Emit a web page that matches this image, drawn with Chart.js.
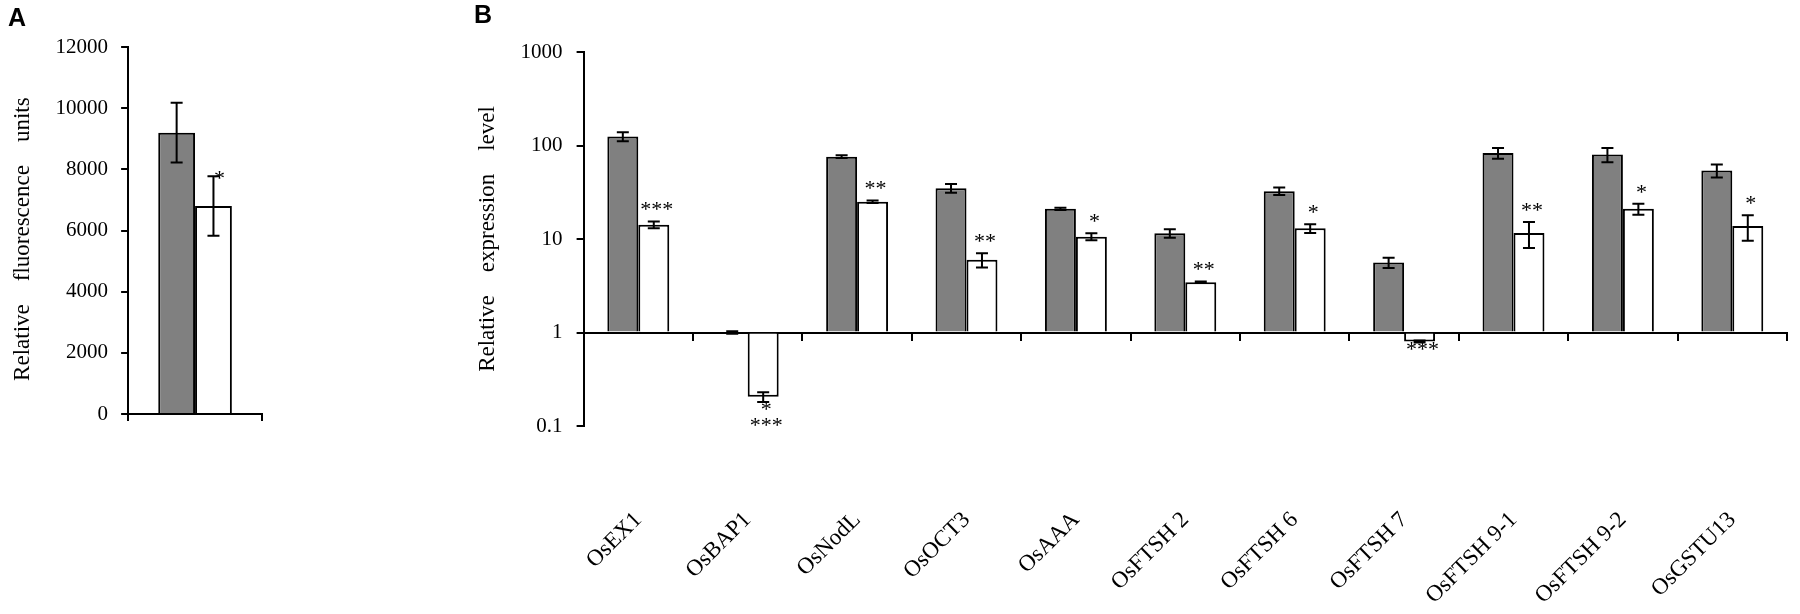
<!DOCTYPE html>
<html><head><meta charset="utf-8">
<script src="https://cdn.jsdelivr.net/npm/chart.js@4.4.1/dist/chart.umd.min.js"></script>
<style>
html,body{margin:0;padding:0;background:#fff;}
#wrap{position:relative;width:1800px;height:614px;overflow:hidden;background:#fff;}
canvas{position:absolute;top:0;}
#cA{left:0;}
#cB{left:440px;}
.panel{position:absolute;font-family:"Liberation Sans",Arial,sans-serif;font-weight:bold;font-size:25px;line-height:29px;color:#000;}
</style></head><body>
<div id="wrap">
<canvas id="cA" width="290" height="614"></canvas>
<canvas id="cB" width="1360" height="614"></canvas>
<div class="panel" style="left:8px;top:3px;">A</div>
<div class="panel" style="left:474px;top:0px;">B</div>
</div>
<script>
// ---------- Panel A data ----------
const categoriesA = [''];
const grayA = [9200];
const grayAErr = [980];
const whiteA = [6800];
const whiteAErr = [970];
const starsA = ['*'];
const titleA = 'Relative    fluorescence    units   ';

// ---------- Panel B data ----------
const categoriesB = ['OsEX1','OsBAP1','OsNodL','OsOCT3','OsAAA','OsFTSH 2','OsFTSH 6','OsFTSH 7','OsFTSH 9-1','OsFTSH 9-2','OsGSTU13'];
const grayB = [125, 1, 76, 35, 21, 11.5, 32.5, 5.6, 83, 80, 54];
const grayBErr = [14, 0.03, 2.5, 3.7, 0.6, 1.2, 3, 0.7, 11, 14, 8.6];
const whiteB = [14.2, 0.205, 25, 6.0, 10.6, 3.45, 13, 0.8, 11.6, 21, 13.8];
const whiteBErr = [1.2, 0.024, 0.8, 1.05, 0.9, 0.06, 1.4, 0.02, 3.6, 2.8, 4.2];
const starsB = ['***', '*\n***', '**', '**', '*', '**', '*', '***', '**', '*', '*'];
const tickValuesB = [0.1, 1, 10, 100, 1000];
const titleB = 'Relative    expression    level';

const SERIF = '"Liberation Serif", "Times New Roman", serif';

const errStarPlugin = {
  id: 'errStars',
  afterDatasetsDraw(chart, args, opts) {
    const ctx = chart.ctx;
    const ys = chart.scales.y;
    ctx.save();
    chart.data.datasets.forEach((ds, i) => {
      const meta = chart.getDatasetMeta(i);
      meta.data.forEach((el, j) => {
        const v = ds.data[j], e = ds.errors[j];
        const yTop = ys.getPixelForValue(v + e);
        const yBot = ys.getPixelForValue(v - e);
        const cap = opts.cap;
        ctx.strokeStyle = '#000';
        ctx.lineWidth = 2;
        ctx.beginPath();
        ctx.moveTo(el.x, yTop); ctx.lineTo(el.x, yBot);
        ctx.moveTo(el.x - cap, yTop); ctx.lineTo(el.x + cap, yTop);
        ctx.moveTo(el.x - cap, yBot); ctx.lineTo(el.x + cap, yBot);
        ctx.stroke();
        if (ds.stars && ds.stars[j]) {
          const lines = ds.stars[j].split('\n');
          ctx.fillStyle = '#000';
          ctx.font = opts.starSize + 'px ' + SERIF;
          ctx.textAlign = 'center';
          ctx.textBaseline = 'middle';
          const up = v >= opts.base;
          lines.forEach((s, k) => {
            const y = up ? yTop - opts.gapAbove - (lines.length - 1 - k) * opts.lineGap
                         : yBot + opts.gapBelow + k * opts.lineGap;
            ctx.fillText(s, el.x + opts.dx, y + 3);
          });
        }
      });
    });
    ctx.restore();
  }
};

// ---------- Chart A ----------
new Chart(document.getElementById('cA'), {
  type: 'bar',
  data: {
    labels: categoriesA,
    datasets: [
      {data: grayA, errors: grayAErr, backgroundColor: '#808080', borderColor: '#000', borderWidth: 2,
       categoryPercentage: 0.55, barPercentage: 1},
      {data: whiteA, errors: whiteAErr, stars: starsA, backgroundColor: '#fff', borderColor: '#000', borderWidth: 2,
       categoryPercentage: 0.55, barPercentage: 1}
    ]
  },
  options: {
    responsive: false, animation: false,
    layout: {padding: {left: 5, right: 28, top: 47, bottom: 193}},
    plugins: {legend: {display: false}, tooltip: {enabled: false},
      errStars: {cap: 6, base: 0, starSize: 22, gapAbove: 0, gapBelow: 5, lineGap: 16, dx: 6}},
    scales: {
      x: {type: 'category', offset: true,
        grid: {display: true, drawOnChartArea: false, drawTicks: true, tickLength: 7, color: '#000', lineWidth: 2, offset: true},
        border: {display: true, color: '#000', width: 2},
        ticks: {display: false}},
      y: {min: 0, max: 12000,
        grid: {display: true, drawOnChartArea: false, drawTicks: true, tickLength: 7, color: '#000', lineWidth: 2},
        border: {display: true, color: '#000', width: 2},
        ticks: {stepSize: 2000, padding: 13, color: '#000', font: {family: SERIF, size: 21}, callback: v => String(v)},
        title: {display: true, text: titleA, color: '#000', font: {family: SERIF, size: 23}, padding: {top: 4, bottom: 6}}}
    }
  },
  plugins: [errStarPlugin]
});

// ---------- Chart B ----------
new Chart(document.getElementById('cB'), {
  type: 'bar',
  data: {
    labels: categoriesB,
    datasets: [
      {data: grayB, errors: grayBErr, base: 1, backgroundColor: '#808080', borderColor: '#000', borderWidth: 2,
       categoryPercentage: 0.566, barPercentage: 1},
      {data: whiteB, errors: whiteBErr, stars: starsB, base: 1, backgroundColor: '#fff', borderColor: '#000', borderWidth: 2,
       categoryPercentage: 0.566, barPercentage: 1}
    ]
  },
  options: {
    responsive: false, animation: false,
    layout: {padding: {left: 30, right: 13, top: 52, bottom: 188}},
    plugins: {legend: {display: false}, tooltip: {enabled: false},
      errStars: {cap: 6, base: 1, starSize: 22, gapAbove: 14, gapBelow: 5, lineGap: 16, dx: 3}},
    scales: {
      x: {type: 'category', position: {y: 1}, offset: true,
        afterFit: s => { s.paddingLeft = 0; s.paddingRight = 0; },
        grid: {display: true, drawOnChartArea: false, drawTicks: true, tickLength: 7, color: '#000', lineWidth: 2, offset: true},
        border: {display: true, color: '#000', width: 2},
        ticks: {autoSkip: false, minRotation: 45, maxRotation: 45, padding: 167, color: '#000', font: {family: SERIF, size: 23}}},
      y: {type: 'logarithmic', min: 0.1, max: 1000,
        afterBuildTicks: s => { s.ticks = tickValuesB.map(v => ({value: v})); },
        grid: {display: true, drawOnChartArea: false, drawTicks: true, tickLength: 7, color: '#000', lineWidth: 2},
        border: {display: true, color: '#000', width: 2},
        ticks: {padding: 14, color: '#000', font: {family: SERIF, size: 21}, callback: v => String(v)},
        title: {display: true, text: titleB, color: '#000', font: {family: SERIF, size: 23}, padding: {top: 4, bottom: 5}}}
    }
  },
  plugins: [errStarPlugin]
});
</script>
</body></html>
